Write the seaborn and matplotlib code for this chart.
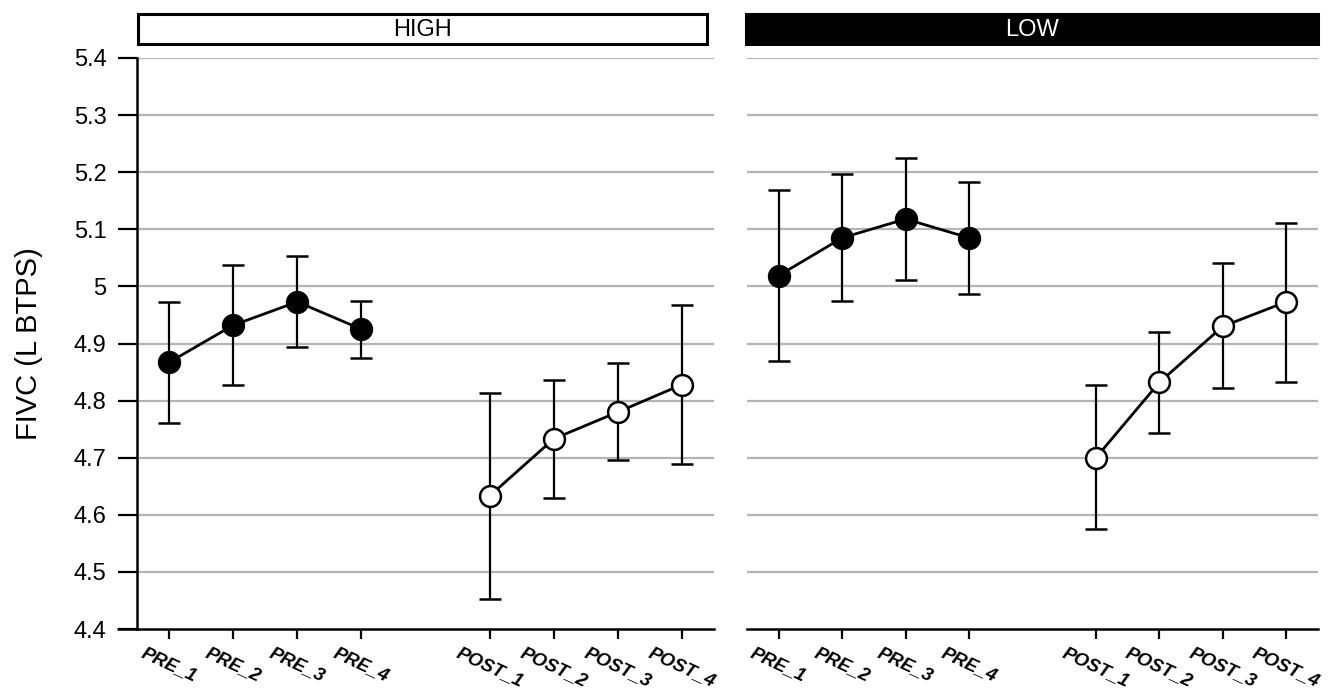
import numpy as np
import pandas as pd
import matplotlib
matplotlib.use("Agg")
import matplotlib.pyplot as plt
import matplotlib.transforms as mtransforms
from matplotlib.patches import Rectangle
import seaborn as sns

# ---- data ----
timepoints = ["PRE_1", "PRE_2", "PRE_3", "PRE_4", "POST_1", "POST_2", "POST_3", "POST_4"]
phases = ["PRE", "PRE", "PRE", "PRE", "POST", "POST", "POST", "POST"]
panels = ["HIGH", "LOW"]

high_mean = [4.867, 4.932, 4.973, 4.925, 4.633, 4.733, 4.780, 4.828]
high_lower = [4.761, 4.827, 4.894, 4.875, 4.453, 4.630, 4.696, 4.689]
high_upper = [4.973, 5.037, 5.054, 4.974, 4.813, 4.836, 4.865, 4.968]

low_mean = [5.019, 5.085, 5.118, 5.085, 4.700, 4.832, 4.930, 4.973]
low_lower = [4.870, 4.975, 5.011, 4.986, 4.575, 4.743, 4.822, 4.832]
low_upper = [5.168, 5.196, 5.225, 5.182, 4.828, 4.921, 5.041, 5.111]

y_ticks = [4.4, 4.5, 4.6, 4.7, 4.8, 4.9, 5.0, 5.1, 5.2, 5.3, 5.4]
y_label = "FIVC (L BTPS)"

# ---- build table ----
# one empty slot between PRE and POST groups
slot = [i + (1 if p == "POST" else 0) for i, p in enumerate(phases)]
rows = []
for panel, m, lo, up in [("HIGH", high_mean, high_lower, high_upper),
                         ("LOW", low_mean, low_lower, low_upper)]:
    for tp, ph, s, mm, ll, uu in zip(timepoints, phases, slot, m, lo, up):
        rows.append(dict(panel=panel, timepoint=tp, phase=ph, x=s, mean=mm, lower=ll, upper=uu))
df = pd.DataFrame(rows)

# ---- style ----
sns.set_theme(style="white")
plt.rcParams["font.family"] = ["Liberation Sans", "DejaVu Sans"]
plt.rcParams["text.color"] = "black"
plt.rcParams["xtick.color"] = "black"
plt.rcParams["ytick.color"] = "black"
plt.rcParams["axes.labelcolor"] = "black"

W, H = 1330, 692
fig = plt.figure(figsize=(W / 100, H / 100), dpi=100)

def fx(px):
    return px / W

def fy(py):
    return 1 - py / H

ax_pos = {
    "HIGH": [fx(137), fy(629), fx(714) - fx(137), fy(58) - fy(629)],
    "LOW": [fx(747), fy(629), fx(1318) - fx(747), fy(58) - fy(629)],
}

grid_col = "#b4b4b4"
for k, panel in enumerate(panels):
    ax = fig.add_axes(ax_pos[panel])
    sub = df[df["panel"] == panel]

    for y in y_ticks[1:]:
        ax.axhline(y, color=grid_col, lw=1.6, zorder=0)

    ax.errorbar(sub["x"], sub["mean"],
                yerr=[sub["mean"] - sub["lower"], sub["upper"] - sub["mean"]],
                fmt="none", ecolor="black", elinewidth=1.6, capsize=8, capthick=1.8,
                zorder=2)

    for ph, face in [("PRE", "black"), ("POST", "white")]:
        d = sub[sub["phase"] == ph]
        sns.lineplot(data=d, x="x", y="mean", ax=ax, color="black", lw=2.0,
                     marker="o", markersize=15, markerfacecolor=face,
                     markeredgecolor="black", markeredgewidth=1.8,
                     errorbar=None, zorder=3)

    ax.set_xlim(-0.5, 8.5)
    ax.set_ylim(4.4, 5.4)
    ax.set_xticks(slot)
    ax.set_xticklabels(timepoints, rotation=-25, ha="center", va="top",
                       fontsize=13.5, fontweight="bold", fontstyle="italic",
                       color="black")
    ax.set_xlabel("")
    ax.set_ylabel("")
    for s in ["top", "right"]:
        ax.spines[s].set_visible(False)
    ax.spines["bottom"].set_color("black")
    ax.spines["bottom"].set_linewidth(1.8)
    ax.tick_params(axis="x", bottom=True, length=7, width=1.6, color="black",
                   pad=4, direction="out")
    if k == 0:
        ax.set_yticks(y_ticks)
        ax.set_yticklabels([f"{v:g}" for v in y_ticks], fontsize=17, color="black")
        ax.spines["left"].set_color("black")
        ax.spines["left"].set_linewidth(1.8)
        ax.tick_params(axis="y", left=True, length=14, width=1.6, color="black",
                       pad=8, direction="out")
        ax.set_ylabel(y_label, fontsize=21, color="black")
        ax.yaxis.set_label_coords(-0.163, 0.5)
        # x-axis line continues left under the y tick marks
        trans = mtransforms.blended_transform_factory(ax.transAxes, ax.transData)
        ax.plot([-20 / 577, 0], [4.4, 4.4], color="black", lw=1.8,
                transform=trans, clip_on=False, solid_capstyle="butt")
    else:
        ax.spines["left"].set_visible(False)
        ax.set_yticks(y_ticks)
        ax.tick_params(axis="y", left=False, labelleft=False)

# ---- strip headers ----
hdr = {
    "HIGH": (138, 707, "white", "black"),
    "LOW": (746, 1318, "black", "white"),
}
for panel, (x0, x1, face, tcol) in hdr.items():
    r = Rectangle((fx(x0), fy(44)), fx(x1) - fx(x0), fy(14) - fy(44),
                  transform=fig.transFigure, facecolor=face, edgecolor="black",
                  lw=2.2, clip_on=False)
    fig.patches.append(r)
    fig.text((fx(x0) + fx(x1)) / 2, (fy(14) + fy(44)) / 2 - 0.002, panel, color=tcol,
             ha="center", va="center", fontsize=17)

fig.savefig("out.png", dpi=100)
